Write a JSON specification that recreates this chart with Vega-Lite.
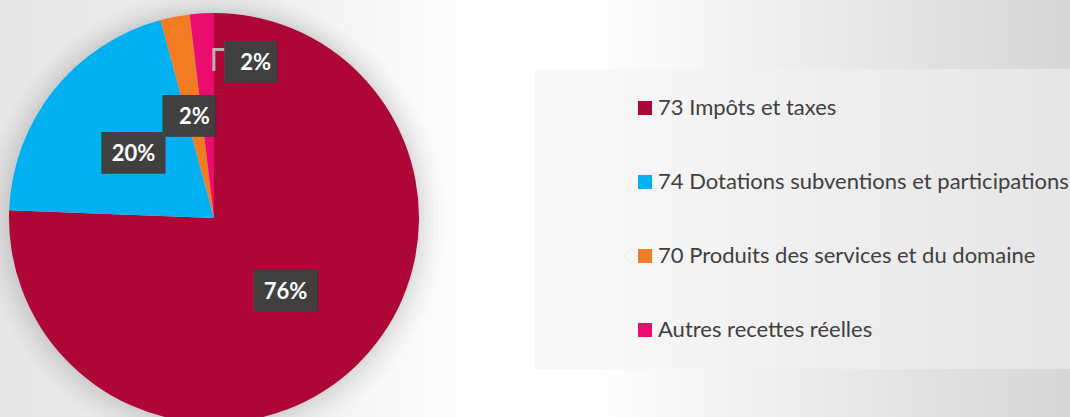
{
  "$schema": "https://vega.github.io/schema/vega-lite/v6.json",
  "width": 1070,
  "height": 417,
  "autosize": {"type": "none"},
  "padding": 0,
  "background": "#ffffff",
  "config": {"view": {"stroke": null}},
  "data": {
    "values": [
      {"cat": "73 Impôts et taxes", "value": 75.6, "rang": 1, "label": "76%"},
      {"cat": "74 Dotations subventions et participations", "value": 20.2, "rang": 2, "label": "20%"},
      {"cat": "70 Produits des services et du domaine", "value": 2.3, "rang": 3, "label": "2%"},
      {"cat": "Autres recettes réelles", "value": 1.9, "rang": 4, "label": "2%"}
    ]
  },
  "layer": [
    {
      "data": {"values": [{}]},
      "mark": {
        "type": "rect", "x": 0, "x2": "width", "y": 0, "y2": "height",
        "fill": {
          "gradient": "linear", "x1": 0, "y1": 0, "x2": 1, "y2": 0,
          "stops": [
            {"offset": 0, "color": "#e6e6e6"},
            {"offset": 0.25, "color": "#efefef"},
            {"offset": 0.45, "color": "#ffffff"},
            {"offset": 0.55, "color": "#ffffff"},
            {"offset": 0.8, "color": "#e8e8e8"},
            {"offset": 1, "color": "#d6d6d6"}
          ]
        }
      },
      "encoding": {}
    },
    {
      "mark": {"type": "arc", "x": 214, "y": 221, "radius": 230, "fill": "#000000", "opacity": 0.012},
      "encoding": {"theta": {"aggregate": "sum", "field": "value", "type": "quantitative"}}
    },
    {
      "mark": {"type": "arc", "x": 214, "y": 220, "radius": 225, "fill": "#000000", "opacity": 0.014},
      "encoding": {"theta": {"aggregate": "sum", "field": "value", "type": "quantitative"}}
    },
    {
      "mark": {"type": "arc", "x": 214, "y": 220, "radius": 220, "fill": "#000000", "opacity": 0.016},
      "encoding": {"theta": {"aggregate": "sum", "field": "value", "type": "quantitative"}}
    },
    {
      "mark": {"type": "arc", "x": 214, "y": 219, "radius": 216, "fill": "#000000", "opacity": 0.018},
      "encoding": {"theta": {"aggregate": "sum", "field": "value", "type": "quantitative"}}
    },
    {
      "mark": {"type": "arc", "x": 214, "y": 219, "radius": 212, "fill": "#000000", "opacity": 0.02},
      "encoding": {"theta": {"aggregate": "sum", "field": "value", "type": "quantitative"}}
    },
    {
      "mark": {"type": "arc", "x": 214, "y": 218, "radius": 208, "fill": "#000000", "opacity": 0.022},
      "encoding": {"theta": {"aggregate": "sum", "field": "value", "type": "quantitative"}}
    },
    {
      "mark": {"type": "arc", "x": 214, "y": 218, "radius": 205},
      "encoding": {
        "theta": {"field": "value", "type": "quantitative", "stack": true},
        "order": {"field": "rang", "type": "quantitative"},
        "color": {
          "field": "cat", "type": "nominal",
          "scale": {
            "domain": ["73 Impôts et taxes", "74 Dotations subventions et participations", "70 Produits des services et du domaine", "Autres recettes réelles"],
            "range": ["#ae0737", "#00b0f0", "#f27c22", "#eb0c6e"]
          },
          "legend": {
            "title": null, "orient": "none", "legendX": 535, "legendY": 69,
            "direction": "vertical", "padding": 28, "symbolOffset": 71,
            "symbolType": "square", "symbolSize": 196, "symbolStrokeWidth": 0,
            "labelOffset": 2, "labelFont": "Lato", "labelFontSize": 22,
            "labelColor": "#404040", "labelLimit": 800, "rowPadding": 52,
            "fillColor": "rgba(242,242,242,0.54)"
          }
        }
      }
    },
    {
      "mark": {"type": "text", "x": 214, "y": 218, "radius": 103, "font": "DejaVu Sans Mono", "fontSize": 35, "baseline": "middle", "align": "center", "fill": "#404040"},
      "encoding": {
        "theta": {"field": "value", "type": "quantitative", "stack": true},
        "order": {"field": "rang", "type": "quantitative"},
        "detail": {"field": "cat", "type": "nominal"},
        "text": {"condition": [{"test": "datum.rang == 4", "value": ""}, {"test": "datum.value > 10", "value": "███"}], "value": "██▌"}
      }
    },
    {
      "mark": {"type": "text", "x": 214, "y": 218, "radius": 167, "dx": 10, "font": "DejaVu Sans Mono", "fontSize": 36, "baseline": "middle", "align": "center", "fill": "#b4b4b4"},
      "encoding": {
        "theta": {"field": "value", "type": "quantitative", "stack": true},
        "order": {"field": "rang", "type": "quantitative"},
        "detail": {"field": "cat", "type": "nominal"},
        "text": {"condition": {"test": "datum.rang == 4", "value": "┌"}, "value": ""}
      }
    },
    {
      "mark": {"type": "text", "x": 214, "y": 218, "radius": 155, "dx": 51, "font": "DejaVu Sans Mono", "fontSize": 35, "baseline": "middle", "align": "center", "fill": "#404040"},
      "encoding": {
        "theta": {"field": "value", "type": "quantitative", "stack": true},
        "order": {"field": "rang", "type": "quantitative"},
        "detail": {"field": "cat", "type": "nominal"},
        "text": {"condition": {"test": "datum.rang == 4", "value": "██▌"}, "value": ""}
      }
    },
    {
      "mark": {"type": "text", "x": 214, "y": 218, "radius": 103, "font": "Lato", "fontSize": 22, "fontWeight": "bold", "baseline": "middle", "align": "center", "fill": "#ffffff"},
      "encoding": {
        "theta": {"field": "value", "type": "quantitative", "stack": true},
        "order": {"field": "rang", "type": "quantitative"},
        "detail": {"field": "cat", "type": "nominal"},
        "text": {"condition": {"test": "datum.rang == 4", "value": ""}, "field": "label", "type": "nominal"}
      }
    },
    {
      "mark": {"type": "text", "x": 214, "y": 218, "radius": 155, "dx": 51, "font": "Lato", "fontSize": 22, "fontWeight": "bold", "baseline": "middle", "align": "center", "fill": "#ffffff"},
      "encoding": {
        "theta": {"field": "value", "type": "quantitative", "stack": true},
        "order": {"field": "rang", "type": "quantitative"},
        "detail": {"field": "cat", "type": "nominal"},
        "text": {"condition": {"test": "datum.rang == 4", "field": "label", "type": "nominal"}, "value": ""}
      }
    }
  ]
}
